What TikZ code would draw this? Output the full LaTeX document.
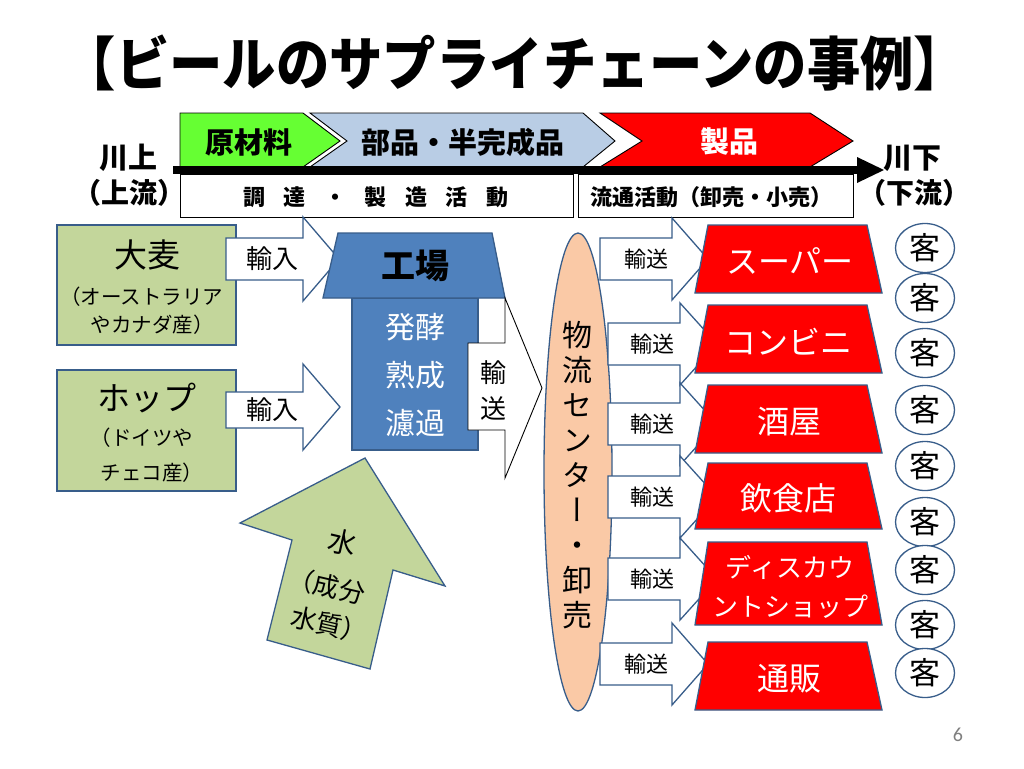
\documentclass[tikz,border=0pt]{standalone}
\usepackage{fontspec}
\setmainfont{Noto Sans CJK JP}
\newfontfamily\jpv{Noto Sans CJK JP}[RawFeature=+vert]
\newfontfamily\numfont{Carlito}
\newcommand\FS[1]{\fontsize{#1}{#1}\selectfont}
\newcommand\LP{\makebox[0.5em][r]{（}}
\newcommand\RP{\makebox[0.5em][l]{）}}
\definecolor{bordc}{HTML}{385D8A}
\definecolor{gbar}{HTML}{66FF33}
\definecolor{bbar}{HTML}{B9CDE5}
\definecolor{olive}{HTML}{C3D69B}
\definecolor{fact}{HTML}{4F81BD}
\definecolor{peach}{HTML}{FAC9A6}
\definecolor{pgray}{HTML}{7F7F7F}
\tikzset{
  bd/.style={draw=bordc, line width=1.3pt, line join=miter},
  blk/.style={draw=black, line width=0.9pt, line join=miter},
  lbl/.style={inner sep=0pt, anchor=center, align=center},
}
\begin{document}
\begin{tikzpicture}[x=1pt,y=-1pt]
\useasboundingbox (0,0) rectangle (1024,768);
\fill[white] (0,0) rectangle (1024,768);

% title
\node[lbl, font=\FS{58}\bfseries] (title) at (515,63) {\scalebox{0.92}[1]{【ビールのサプライチェーンの事例】}};

% chevrons
\draw[blk, fill=bbar] (310,113) -- (583,113) -- (615,141) -- (583,167) -- (310,167) -- (347,141) -- cycle;
\draw[blk, fill=red] (600,113) -- (810,113) -- (853,141) -- (810,167) -- (600,167) -- (642,141) -- cycle;
\draw[blk, fill=gbar] (180,113) -- (303,113) -- (340,141) -- (303,167) -- (180,167) -- cycle;
\node[lbl, font=\FS{29}\bfseries] (raw) at (249,142) {原材料};
\node[lbl, font=\FS{29}\bfseries] (parts) at (463,142) {部品・半完成品};
\node[lbl, font=\FS{29}\bfseries, text=white] (prod) at (729,142) {製品};

% time bar
\fill[black] (173,166) rectangle (860,174);
\fill[black] (857,157) -- (884,170) -- (857,183) -- cycle;
\draw[blk] (180,174) rectangle (573,217);
\draw[blk] (578,174) rectangle (853,217);
\node[lbl, font=\FS{22}\bfseries] (act1) at (376,197) {調\hspace{18.5pt}達\hspace{18.5pt}・\hspace{18.5pt}製\hspace{18.5pt}造\hspace{18.5pt}活\hspace{18.5pt}動};
\node[lbl, font=\FS{22}\bfseries] (act2) at (711,197) {流通活動（卸売・小売）};
\node[lbl, font=\FS{29}\bfseries] (up1) at (128,158) {川上};
\node[lbl, font=\FS{28}\bfseries] (up2) at (129,193) {\LP 上流\RP};
\node[lbl, font=\FS{29}\bfseries] (dn1) at (912,158) {川下};
\node[lbl, font=\FS{28}\bfseries] (dn2) at (914,193) {\LP 下流\RP};

% raw material boxes
\draw[bd, fill=olive] (57,225) rectangle (236,345);
\draw[bd, fill=olive] (57,370) rectangle (236,491);
\node[lbl, font=\FS{33}] (barley) at (147,255) {大麦};
\node[lbl, font=\fontsize{20.5}{28}\selectfont] (barleyo) at (147,311) {\LP オーストラリア\\やカナダ産\RP};
\node[lbl, font=\FS{33}] (hop) at (147,398) {ホップ};
\node[lbl, font=\fontsize{20.5}{35}\selectfont] (hopo) at (147,455) {\LP ドイツや\\チェコ産\RP};

% import arrows
\draw[bd, fill=white] (226,238) -- (303,238) -- (303,217) -- (339,259) -- (303,301) -- (303,280) -- (226,280) -- cycle;
\draw[bd, fill=white] (226,392) -- (303,392) -- (303,364) -- (340,407) -- (303,450) -- (303,428) -- (226,428) -- cycle;
\node[lbl, font=\FS{26}] (imp1) at (272,259) {輸入};
\node[lbl, font=\FS{26}] (imp2) at (272,410) {輸入};

% factory
\draw[bd, fill=fact] (352,298) rectangle (478,450);
\draw[bd, fill=fact] (338,233) -- (492,233) -- (505,298) -- (323,298) -- cycle;
\node[lbl, font=\FS{34}\bfseries] (fac) at (415,266) {工場};
\node[lbl, font=\fontsize{30}{48}\selectfont, text=white] (proc) at (415,375) {発酵\\熟成\\濾過};

% transport arrow (vertical text)
\draw[blk, fill=white] (468,343) -- (505,343) -- (505,298) -- (542,388) -- (505,478) -- (505,430) -- (468,430) -- cycle;
\node[lbl, font=\fontsize{26}{36}\selectfont] (tr0) at (493,390) {輸\\送};

% water arrow
\draw[bd, fill=olive] (365,458) -- (445,586) -- (393,570) -- (370,669) -- (267,640) -- (292,540) -- (240,523) -- cycle;
\node[lbl, font=\FS{28}, rotate=-13] (w1) at (343,542) {水};
\node[lbl, font=\FS{26}, rotate=-13] (w2) at (333,587) {\LP 成分};
\node[lbl, font=\FS{26}, rotate=-13] (w3) at (323,623) {水質\RP};

% distribution center
\draw[bd, fill=peach] (578,472) ellipse [x radius=34pt, y radius=239pt];
\node[lbl, font=\jpv\fontsize{30}{35}\selectfont] (dc) at (577,475) {物\\流\\セ\\ン\\タ\\ー\\・\\卸\\売};

% transport arrows to retailers
\draw[bd, fill=white] (600,238) -- (672,238) -- (672,218) -- (708,259) -- (672,300) -- (672,280) -- (600,280) -- cycle;
\draw[bd, fill=white] (608,323) -- (680,323) -- (680,303) -- (717,344) -- (680,385) -- (680,365) -- (608,365) -- cycle;
\draw[bd, fill=white] (608,403) -- (680,403) -- (680,383) -- (717,424) -- (680,465) -- (680,445) -- (608,445) -- cycle;
\draw[bd, fill=white] (608,476) -- (680,476) -- (680,456) -- (717,497) -- (680,538) -- (680,518) -- (608,518) -- cycle;
\draw[bd, fill=white] (608,558) -- (680,558) -- (680,538) -- (717,579) -- (680,620) -- (680,600) -- (608,600) -- cycle;
\draw[bd, fill=white] (600,643) -- (672,643) -- (672,623) -- (708,664) -- (672,705) -- (672,685) -- (600,685) -- cycle;
\node[lbl, font=\FS{22}] (tr1) at (646,259) {輸送};
\node[lbl, font=\FS{22}] (tr2) at (652,344) {輸送};
\node[lbl, font=\FS{22}] (tr3) at (652,424) {輸送};
\node[lbl, font=\FS{22}] (tr4) at (652,497) {輸送};
\node[lbl, font=\FS{22}] (tr5) at (652,579) {輸送};
\node[lbl, font=\FS{22}] (tr6) at (646,664) {輸送};

% retailers
\foreach \t/\b in {225/293, 305/373, 385/453, 463/529, 542/625, 642/710}{
  \draw[bd, fill=red] (708,\t) -- (867,\t) -- (882,\b) -- (695,\b) -- cycle;
}
\node[lbl, font=\FS{32}, text=white] (r1) at (790,261) {スーパー};
\node[lbl, font=\FS{32}, text=white] (r2) at (788,342) {コンビニ};
\node[lbl, font=\FS{32}, text=white] (r3) at (789,422) {酒屋};
\node[lbl, font=\FS{32}, text=white] (r4) at (788,498) {飲食店};
\node[lbl, font=\fontsize{26}{39}\selectfont, text=white] (r5) at (790,587) {ディスカウ\\ントショップ};
\node[lbl, font=\FS{32}, text=white] (r6) at (789,679) {通販};

% customers
\foreach \y [count=\i] in {248,298,353,410,466,522,570,625,673}{
  \draw[bd, fill=white] (925,\y) ellipse [x radius=29.5pt, y radius=24.5pt];
  \node[lbl, font=\FS{31}] (c\i) at (925,\y) {客};
}

% page number
\node[lbl, font=\numfont\FS{20}, text=pgray] (pg) at (958,735) {6};
\end{tikzpicture}
\end{document}
